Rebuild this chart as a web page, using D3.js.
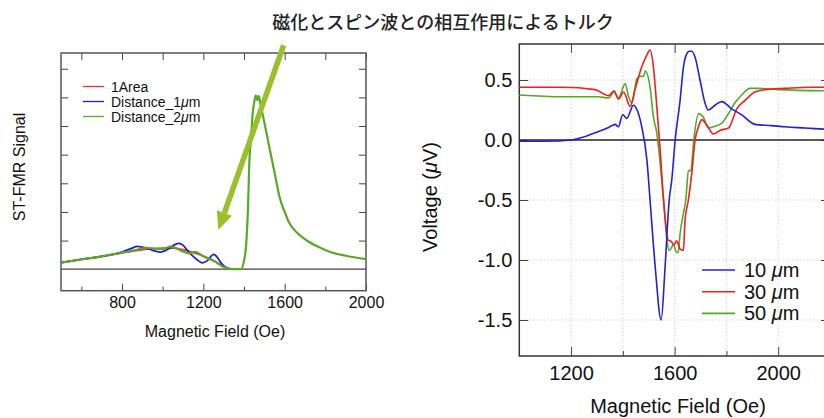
<!DOCTYPE html>
<html lang="ja">
<head>
  <meta charset="UTF-8">
  <title>ST-FMR</title>
  <style>
    body { margin: 0; background: #fff; }
    svg { display: block; font-family: "Liberation Sans", Arial, sans-serif; }
    .tick line { stroke: #444; }
  </style>
</head>
<body>
  <script src="https://cdn.jsdelivr.net/npm/d3@7"></script>
  <script>
// 画布大小
const width = 824
const height = 418

const title = '磁化とスピン波との相互作用によるトルク'

// ---- 左のグラフのデータ (field, signal) ----
const leftNames = ['1Area', 'Distance_1', 'Distance_2']
const leftColors = ['#ff2a2a', '#2020d0', '#5aa82a']
const area1 = [[500,0.23],[600,0.34],[700,0.45],[800,0.57],[880,0.66],[950,0.72],[1000,0.74],[1050,0.74],
  [1100,0.68],[1150,0.58],[1200,0.46],[1250,0.3],[1300,0.1],[1340,0.0],[1380,0]]
const dist1 = [[500,0.23],[600,0.34],[700,0.45],[800,0.6],[850,0.74],[875,0.8],[920,0.74],[960,0.64],
  [990,0.6],[1030,0.72],[1060,0.86],[1080,0.9],[1100,0.84],[1120,0.67],[1150,0.45],[1175,0.3],[1195,0.22],
  [1220,0.3],[1250,0.52],[1265,0.45],[1285,0.24],[1315,0.04],[1340,0]]
const dist2 = [[500,0.23],[600,0.34],[700,0.45],[800,0.58],[860,0.66],[920,0.75],[960,0.72],[1000,0.7],
  [1040,0.8],[1070,0.72],[1100,0.62],[1130,0.55],[1160,0.61],[1200,0.45],[1250,0.3],[1300,0.08],[1330,0.01],
  [1360,0],[1385,0],[1400,0.3],[1410,0.8],[1420,2.2],[1426,3.7],[1435,4.6],[1443,5.45],[1452,5.9],[1458,6.07],
  [1465,5.9],[1472,6.05],[1480,5.8],[1495,5.3],[1508,4.85],[1525,4.25],[1541,3.69],[1558,3.1],[1574,2.55],
  [1600,2.0],[1623,1.61],[1660,1.28],[1705,1.02],[1760,0.8],[1820,0.61],[1900,0.47],[2000,0.35]]
const leftMajorTicks = [800, 1200, 1600, 2000]
const leftMinorTicks = [600, 1000, 1400, 1800]
const leftYTicks = [1, 2, 3, 4, 5, 6, 7]
// 矢印 (field, signal)
const arrowPts = [[1595, 7.82], [1274, 1.37]]

// ---- 右のグラフのデータ (field, voltage) ----
const rightNames = ['10 ', '30 ', '50 ']
const rightColors = ['#2222cc', '#ee2020', '#55a82a']
const um10 = [[1000,-0.01],[1100,-0.01],[1203,0.0],[1255,0.03],[1306,0.07],[1340,0.1],[1358,0.12],[1370,0.13],
  [1383,0.11],[1399,0.21],[1415,0.18],[1441,0.29],[1455,0.25],[1473,0.11],[1493,-0.17],[1505,-0.5],
  [1525,-1.06],[1548,-1.5],[1563,-1.06],[1579,-0.5],[1589,-0.33],[1602,0.0],[1621,0.33],[1634,0.61],
  [1647,0.72],[1656,0.74],[1666,0.74],[1679,0.69],[1698,0.5],[1717,0.31],[1730,0.25],[1756,0.29],
  [1782,0.32],[1820,0.26],[1859,0.21],[1910,0.13],[1975,0.12],[2026,0.11],[2103,0.1],[2180,0.09]]
const um30 = [[1000,0.44],[1165,0.44],[1293,0.42],[1345,0.37],[1366,0.41],[1383,0.34],[1403,0.4],[1428,0.28],
  [1447,0.42],[1473,0.61],[1493,0.71],[1505,0.75],[1518,0.61],[1531,0.28],[1544,-0.08],[1557,-0.5],
  [1563,-0.64],[1573,-0.83],[1589,-0.85],[1596,-0.875],[1608,-0.84],[1621,-0.91],[1634,-0.92],[1640,-0.67],
  [1653,-0.5],[1666,-0.28],[1679,0.0],[1692,0.11],[1705,0.17],[1724,0.125],[1750,0.05],[1775,0.08],
  [1808,0.1],[1840,0.26],[1872,0.33],[1910,0.4],[1949,0.42],[2026,0.43],[2129,0.44],[2180,0.44]]
const um50 = [[1000,0.375],[1165,0.36],[1306,0.36],[1345,0.35],[1366,0.4],[1383,0.35],[1409,0.47],[1422,0.36],
  [1435,0.31],[1454,0.51],[1467,0.53],[1480,0.53],[1486,0.575],[1505,0.44],[1518,0.19],[1531,0.06],
  [1544,-0.19],[1557,-0.5],[1570,-0.83],[1579,-0.92],[1596,-0.875],[1608,-0.94],[1614,-0.93],[1621,-0.78],
  [1634,-0.61],[1643,-0.5],[1653,-0.26],[1663,-0.25],[1674,0.0],[1692,0.22],[1711,0.19],[1730,0.1],
  [1750,0.11],[1782,0.14],[1808,0.22],[1833,0.31],[1859,0.375],[1891,0.43],[1923,0.43],[2000,0.42],[2180,0.41]]
const rightMajorTicks = [1200, 1600, 2000]
const rightMinorTicks = [1400, 1800]
const rightYTicks = [0.5, 0, -0.5, -1, -1.5]

const svg = d3.select('body').append('svg')
  .attr('width', width)
  .attr('height', height)

// タイトル
svg.append('text')
  .attr('x', 443).attr('y', 29)
  .attr('text-anchor', 'middle')
  .style('font-family', '"Noto Sans CJK JP", sans-serif')
  .style('font-size', '18px')
  .style('font-weight', 500)
  .attr('fill', '#222')
  .text(title)

// ================= 左のグラフ =================
const L = { left: 61, right: 366, top: 53, bottom: 290.7 }
const xL = d3.scaleLinear().domain([500, 2000]).range([L.left, L.right])
const yL = d3.scaleLinear().domain([-0.75, 7.55]).range([L.bottom, L.top])
const gL = svg.append('g')

// 下の軸 (大きい目盛り + ラベル)
gL.append('g')
  .attr('transform', `translate(0, ${L.bottom})`)
  .call(d3.axisBottom(xL).tickValues(leftMajorTicks).tickSizeInner(-7).tickSizeOuter(0).tickPadding(6)
    .tickFormat(d3.format('d')))
  .call(g => g.select('.domain').remove())
  .call(g => g.selectAll('text').style('font-size', '16px').attr('fill', '#111'))
gL.append('g')
  .attr('transform', `translate(0, ${L.bottom})`)
  .call(d3.axisBottom(xL).tickValues(leftMinorTicks).tickSizeInner(-4).tickSizeOuter(0).tickFormat(''))
  .call(g => g.select('.domain').remove())
// 上の軸
gL.append('g')
  .attr('transform', `translate(0, ${L.top})`)
  .call(d3.axisTop(xL).tickValues(leftMajorTicks.concat(leftMinorTicks)).tickSizeInner(-7).tickSizeOuter(0).tickFormat(''))
  .call(g => g.select('.domain').remove())
// 左右の軸 (ラベルなし)
gL.append('g')
  .attr('transform', `translate(${L.left}, 0)`)
  .call(d3.axisLeft(yL).tickValues(leftYTicks).tickSizeInner(-7).tickSizeOuter(0).tickFormat(''))
  .call(g => g.select('.domain').remove())
gL.append('g')
  .attr('transform', `translate(${L.right}, 0)`)
  .call(d3.axisRight(yL).tickValues(leftYTicks).tickSizeInner(-7).tickSizeOuter(0).tickFormat(''))
  .call(g => g.select('.domain').remove())

// 枠
gL.append('rect')
  .attr('x', L.left).attr('y', L.top)
  .attr('width', L.right - L.left).attr('height', L.bottom - L.top)
  .attr('fill', 'none').attr('stroke', '#555').attr('stroke-width', 1.5)

// ゼロ線
gL.append('line')
  .attr('x1', L.left).attr('x2', L.right)
  .attr('y1', yL(0)).attr('y2', yL(0))
  .attr('stroke', '#444').attr('stroke-width', 1.3)

const lineL = d3.line().x(d => xL(d[0])).y(d => yL(d[1])).curve(d3.curveMonotoneX)
const leftSeries = [area1, dist1, dist2]
gL.selectAll('.left-line')
  .data(leftSeries)
  .enter()
  .append('path')
  .attr('class', 'left-line')
  .attr('d', lineL)
  .attr('fill', 'none')
  .attr('stroke', (d, i) => leftColors[i])
  .attr('stroke-width', (d, i) => i === 2 ? 2.2 : 1.8)

// 凡例
const legL = gL.selectAll('.leg-l')
  .data(leftNames)
  .enter()
  .append('g')
  .attr('transform', (d, i) => `translate(83, ${86.5 + i * 15})`)
legL.append('line')
  .attr('x1', 0).attr('x2', 21)
  .attr('stroke', (d, i) => leftColors[i]).attr('stroke-width', 1.3)
const legLText = legL.append('text')
  .attr('x', 28).attr('y', 5)
  .style('font-size', '14px')
  .attr('fill', '#111')
legLText.append('tspan').text(d => d)
legLText.filter((d, i) => i > 0).append('tspan').style('font-style', 'italic').text('μ')
legLText.filter((d, i) => i > 0).append('tspan').text('m')

// 矢印
const arrowColor = '#9cbf2c'
const [a0, a1] = arrowPts.map(p => [xL(p[0]), yL(p[1])])
const ang = Math.atan2(a1[1] - a0[1], a1[0] - a0[0])
const headLen = 18
const headW = 8
const base = [a1[0] - headLen * Math.cos(ang), a1[1] - headLen * Math.sin(ang)]
gL.append('line')
  .attr('x1', a0[0]).attr('y1', a0[1])
  .attr('x2', base[0]).attr('y2', base[1])
  .attr('stroke', arrowColor).attr('stroke-width', 5.5)
gL.append('path')
  .attr('d', `M${a1[0]},${a1[1]}L${base[0] + headW * Math.sin(ang)},${base[1] - headW * Math.cos(ang)}L${base[0] - headW * Math.sin(ang)},${base[1] + headW * Math.cos(ang)}Z`)
  .attr('fill', arrowColor)

// 軸ラベル
gL.append('text')
  .attr('x', 215).attr('y', 337)
  .attr('text-anchor', 'middle')
  .style('font-size', '16px')
  .attr('fill', '#111')
  .text('Magnetic Field (Oe)')
gL.append('text')
  .attr('transform', 'translate(25, 167) rotate(-90)')
  .attr('text-anchor', 'middle')
  .style('font-size', '16px')
  .attr('fill', '#111')
  .text('ST-FMR Signal')

// ================= 右のグラフ =================
const R = { left: 519.3, right: 830, top: 44, bottom: 356 }
const xR = d3.scaleLinear().domain([1000, 2200]).range([R.left, R.right])
const yR = d3.scaleLinear().domain([-1.8, 0.8]).range([R.bottom, R.top])
const gR = svg.append('g')

// グリッド (点線)
gR.selectAll('.vgrid')
  .data(rightMajorTicks.concat(rightMinorTicks))
  .enter()
  .append('line')
  .attr('x1', d => xR(d)).attr('x2', d => xR(d))
  .attr('y1', R.top).attr('y2', R.bottom)
  .attr('stroke', '#d4d4d4').attr('stroke-dasharray', '1.5,2')
gR.selectAll('.hgrid')
  .data(rightYTicks.filter(d => d !== 0))
  .enter()
  .append('line')
  .attr('x1', R.left).attr('x2', R.right)
  .attr('y1', d => yR(d)).attr('y2', d => yR(d))
  .attr('stroke', '#d4d4d4').attr('stroke-dasharray', '1.5,2')

// 軸
gR.append('g')
  .attr('transform', `translate(0, ${R.bottom})`)
  .call(d3.axisBottom(xR).tickValues(rightMajorTicks).tickSizeInner(-9).tickSizeOuter(0).tickPadding(10)
    .tickFormat(d3.format('d')))
  .call(g => g.select('.domain').remove())
  .call(g => g.selectAll('text').style('font-size', '20px').attr('fill', '#111'))
gR.append('g')
  .attr('transform', `translate(0, ${R.bottom})`)
  .call(d3.axisBottom(xR).tickValues(rightMinorTicks).tickSizeInner(-5).tickSizeOuter(0).tickFormat(''))
  .call(g => g.select('.domain').remove())
gR.append('g')
  .attr('transform', `translate(0, ${R.top})`)
  .call(d3.axisTop(xR).tickValues(rightMajorTicks).tickSizeInner(-9).tickSizeOuter(0).tickFormat(''))
  .call(g => g.select('.domain').remove())
gR.append('g')
  .attr('transform', `translate(0, ${R.top})`)
  .call(d3.axisTop(xR).tickValues(rightMinorTicks).tickSizeInner(-5).tickSizeOuter(0).tickFormat(''))
  .call(g => g.select('.domain').remove())
gR.append('g')
  .attr('transform', `translate(${R.left}, 0)`)
  .call(d3.axisLeft(yR).tickValues(rightYTicks).tickSizeInner(-9).tickSizeOuter(0).tickPadding(7)
    .tickFormat(d => d.toFixed(1)))
  .call(g => g.select('.domain').remove())
  .call(g => g.selectAll('text').style('font-size', '20px').attr('fill', '#111'))
gR.append('g')
  .attr('transform', `translate(${R.right}, 0)`)
  .call(d3.axisRight(yR).tickValues(rightYTicks).tickSizeInner(-9).tickSizeOuter(0).tickFormat(''))
  .call(g => g.select('.domain').remove())

gR.append('rect')
  .attr('x', R.left).attr('y', R.top)
  .attr('width', R.right - R.left).attr('height', R.bottom - R.top)
  .attr('fill', 'none').attr('stroke', '#333').attr('stroke-width', 1.5)

// ゼロ線
gR.append('line')
  .attr('x1', R.left).attr('x2', R.right)
  .attr('y1', yR(0)).attr('y2', yR(0))
  .attr('stroke', '#222').attr('stroke-width', 1.6)

const lineR = d3.line().x(d => xR(d[0])).y(d => yR(d[1])).curve(d3.curveMonotoneX)
const rightSeries = [um10, um30, um50]
// 緑 → 赤 → 青 の順で重ねる
gR.selectAll('.right-line')
  .data(rightSeries.map((d, i) => ({ d, i })).reverse())
  .enter()
  .append('path')
  .attr('class', 'right-line')
  .attr('d', s => lineR(s.d))
  .attr('fill', 'none')
  .attr('stroke', s => rightColors[s.i])
  .attr('stroke-width', 1.6)

// 凡例
const legR = gR.selectAll('.leg-r')
  .data(rightNames)
  .enter()
  .append('g')
  .attr('transform', (d, i) => `translate(702, ${270 + i * 21.7})`)
legR.append('line')
  .attr('x1', 0).attr('x2', 33)
  .attr('stroke', (d, i) => rightColors[i]).attr('stroke-width', 1.6)
const legRText = legR.append('text')
  .attr('x', 42).attr('y', 7)
  .style('font-size', '20px')
  .attr('fill', '#111')
legRText.append('tspan').text(d => d)
legRText.append('tspan').style('font-style', 'italic').text('μ')
legRText.append('tspan').text('m')

// 軸ラベル
gR.append('text')
  .attr('x', 678).attr('y', 413)
  .attr('text-anchor', 'middle')
  .style('font-size', '20px')
  .attr('fill', '#111')
  .text('Magnetic Field (Oe)')
const yLab = gR.append('text')
  .attr('transform', 'translate(437, 197) rotate(-90)')
  .attr('text-anchor', 'middle')
  .style('font-size', '20px')
  .attr('fill', '#111')
yLab.append('tspan').text('Voltage (')
yLab.append('tspan').style('font-style', 'italic').text('μ')
yLab.append('tspan').text('V)')
  </script>
</body>
</html>
